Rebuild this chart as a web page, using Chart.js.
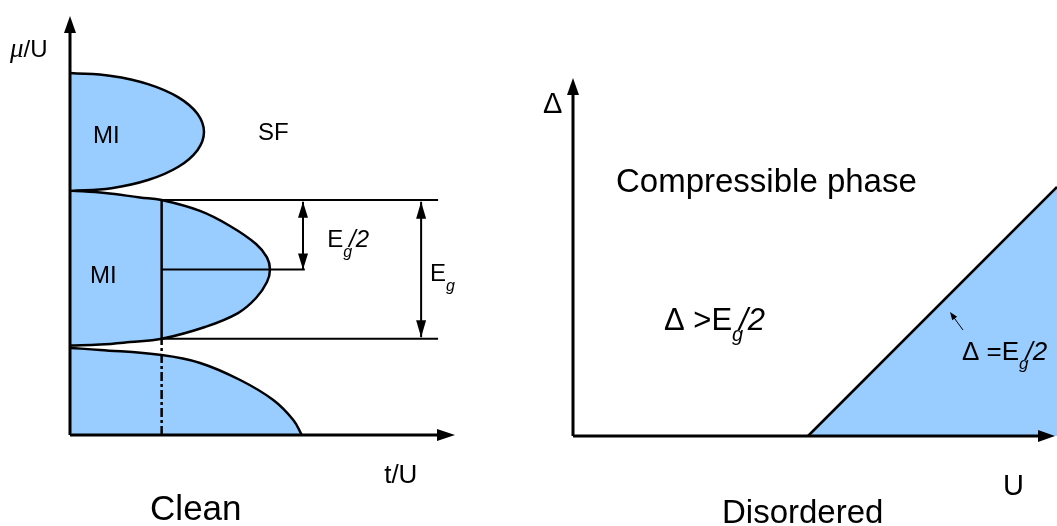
<!DOCTYPE html>
<html>
<head>
<meta charset="utf-8">
<title>Phase diagrams: clean and disordered</title>
<script src="https://cdn.jsdelivr.net/npm/chart.js@4"></script>
<style>
  html, body { margin: 0; padding: 0; background: #fff; }
  #wrap { position: relative; width: 1057px; height: 526px; overflow: hidden; }
  canvas { position: absolute; top: 0; }
</style>
</head>
<body>
<div id="wrap">
  <canvas id="clean" width="520" height="526" style="left:0"></canvas>
  <canvas id="disordered" width="537" height="526" style="left:520px"></canvas>
</div>
<script>
// ---- Clean system: Mott lobes, points are [t/U, mu/U] ----
const mottLobe1 = [[0, 2.755], [0.0538, 2.736], [0.1023, 2.682], [0.1408, 2.598], [0.1655, 2.492],
  [0.174, 2.374], [0.1655, 2.257], [0.1408, 2.150], [0.1023, 2.066], [0.0538, 2.012], [0, 1.994]];
const mottLobe2 = [[0, 1.997], [0.0455, 1.981], [0.0909, 1.952], [0.119, 1.935], [0.1688, 1.865],
  [0.2078, 1.768], [0.2416, 1.652], [0.2558, 1.565], [0.2597, 1.487], [0.2558, 1.406],
  [0.2416, 1.303], [0.2182, 1.206], [0.1753, 1.116], [0.119, 1.04], [0.0779, 1.019],
  [0.039, 1.003], [0, 0.997]];
const mottLobe3 = [[0, 0.981], [0.039, 0.968], [0.119, 0.935], [0.169, 0.884], [0.221, 0.774],
  [0.264, 0.645], [0.29, 0.516], [0.301, 0.419]];

// gap of the second lobe, read at a fixed hopping t/U
const tGap = 0.119;
const gapUpper = 1.935;
const gapLower = 1.04;
const gapMid = 1.487;

// ---- Disordered system: boundary Delta = E_g/2 in the (U, Delta) plane ----
const boundaryU = [2.35, 4.84];
const boundaryDelta = [0, 2.49];

const BLUE = '#99ccff';
const FONT = '"Liberation Sans", Arial, Helvetica, sans-serif';

const xy = pts => pts.map(([x, y]) => ({ x, y }));

function lobe(points, fill) {
  return { data: xy(points), borderColor: '#000', borderWidth: 2.5, pointRadius: 0,
    tension: 0.4, fill, backgroundColor: BLUE, clip: false, order: 3 };
}
function stroke(points, extra) {
  return Object.assign({ data: xy(points), borderColor: '#000', borderWidth: 2, pointRadius: 0,
    tension: 0, fill: false, clip: false, order: 1 }, extra || {});
}

function drawHead(ctx, fx, fy, tx, ty, len, half) {
  const dx = tx - fx, dy = ty - fy, d = Math.hypot(dx, dy);
  const ux = dx / d, uy = dy / d;
  const bx = tx - ux * len, by = ty - uy * len;
  ctx.beginPath();
  ctx.moveTo(tx, ty);
  ctx.lineTo(bx - uy * half, by + ux * half);
  ctx.lineTo(bx + uy * half, by - ux * half);
  ctx.closePath();
  ctx.fill();
}

function drawParts(ctx, x, y, parts) {
  let cx = x;
  for (const p of parts) {
    const fam = p.family || FONT;
    ctx.font = (p.italic ? 'italic ' : '') + p.size + 'px ' + fam;
    cx += p.dx || 0;
    ctx.fillText(p.text, cx, y + (p.dy || 0));
    cx += ctx.measureText(p.text).width;
  }
}

// arrowheads and labels, placed in data coordinates through the chart scales
const sketchPlugin = {
  id: 'sketch',
  afterDatasetsDraw(chart, args, opts) {
    const { ctx } = chart;
    const sx = chart.scales.x, sy = chart.scales.y;
    const px = v => sx.getPixelForValue(v), py = v => sy.getPixelForValue(v);
    ctx.save();
    ctx.fillStyle = '#000';
    for (const h of opts.heads || []) {
      drawHead(ctx, px(h.from[0]), py(h.from[1]), px(h.at[0]), py(h.at[1]), h.len, h.half);
    }
    ctx.textBaseline = 'alphabetic';
    ctx.textAlign = 'left';
    for (const l of opts.labels || []) drawParts(ctx, px(l.at[0]), py(l.at[1]), l.parts);
    ctx.restore();
  }
};

function options(xr, yr, padding, sketch) {
  return {
    responsive: false, animation: false, devicePixelRatio: 1, events: [],
    layout: { padding },
    plugins: { legend: { display: false }, tooltip: { enabled: false }, sketch },
    scales: {
      x: { type: 'linear', min: xr[0], max: xr[1], display: false },
      y: { type: 'linear', min: yr[0], max: yr[1], display: false }
    }
  };
}

// ---------------- Clean ----------------
const muMin = 0.419, muMax = 3.123, tMax = 0.5;
const sub = (t, size, dy) => ({ text: t, size, italic: true, dy });

new Chart(document.getElementById('clean'), {
  type: 'line',
  data: {
    datasets: [
      lobe(mottLobe1, 'shape'),
      lobe(mottLobe2, 'shape'),
      lobe(mottLobe3, 'start'),
      stroke([[0, muMin], [0, muMax - 0.08]], { borderWidth: 3 }),
      stroke([[0, muMin], [tMax - 0.02, muMin]], { borderWidth: 3 }),
      stroke([[tGap, gapLower], [tGap, gapUpper]], { borderWidth: 2.5 }),
      stroke([[tGap, muMin], [tGap, gapLower]], { borderWidth: 2.5, borderDash: [9, 3, 3, 3] }),
      stroke([[tGap, gapUpper], [0.478, gapUpper]]),
      stroke([[tGap, gapLower], [0.478, gapLower]]),
      stroke([[tGap, gapMid], [0.305, gapMid]]),
      stroke([[0.3026, gapUpper - 0.01], [0.3026, gapMid]]),
      stroke([[0.456, gapUpper - 0.01], [0.456, gapLower + 0.01]])
    ]
  },
  options: options([0, tMax], [muMin, muMax], { left: 70, right: 65, top: 16, bottom: 91 }, {
    heads: [
      { from: [0, muMin], at: [0, muMax], len: 17, half: 6 },
      { from: [0, muMin], at: [tMax, muMin], len: 18, half: 6 },
      { from: [0.3026, gapMid], at: [0.3026, gapUpper - 0.01], len: 16, half: 5 },
      { from: [0.3026, gapUpper], at: [0.3026, gapMid], len: 16, half: 5 },
      { from: [0.456, gapLower], at: [0.456, gapUpper - 0.01], len: 17, half: 5 },
      { from: [0.456, gapUpper], at: [0.456, gapLower + 0.01], len: 17, half: 5 }
    ],
    labels: [
      { at: [-0.078, 2.858], parts: [{ text: 'μ', size: 27, italic: true, family: '"Liberation Serif", serif' }, { text: '/U', size: 24 }] },
      { at: [0.030, 2.303], parts: [{ text: 'MI', size: 24 }] },
      { at: [0.244, 2.323], parts: [{ text: 'SF', size: 24 }] },
      { at: [0.026, 1.40], parts: [{ text: 'MI', size: 24 }] },
      { at: [0.334, 1.632], parts: [{ text: 'E', size: 24 }, sub('g', 16, 10), { text: '/2', size: 24, italic: true, dx: -3 }] },
      { at: [0.4675, 1.413], parts: [{ text: 'E', size: 24 }, sub('g', 16, 10)] },
      { at: [0.408, 0.110], parts: [{ text: 't/U', size: 26 }] },
      { at: [0.104, -0.129], parts: [{ text: 'Clean', size: 35 }] }
    ]
  }),
  plugins: [sketchPlugin]
});

// ---------------- Disordered ----------------
const uMax = 4.84, dMax = 3.6;

new Chart(document.getElementById('disordered'), {
  type: 'line',
  data: {
    datasets: [
      { data: boundaryU.map((u, i) => ({ x: u, y: boundaryDelta[i] })), borderColor: '#000',
        borderWidth: 2.5, pointRadius: 0, fill: 'start', backgroundColor: BLUE, clip: false, order: 3 },
      stroke([[0, 0], [0, 3.45]], { borderWidth: 3 }),
      stroke([[0, 0], [4.68, 0]], { borderWidth: 3 }),
      stroke([[3.90, 1.06], [3.79, 1.21]], { borderWidth: 1 })
    ]
  },
  options: options([0, uMax], [0, dMax], { left: 53, right: 0, top: 76, bottom: 90 }, {
    heads: [
      { from: [0, 0], at: [0, 3.58], len: 17, half: 6 },
      { from: [0, 0], at: [4.82, 0], len: 17, half: 6 },
      { from: [3.90, 1.06], at: [3.77, 1.24], len: 8, half: 3 }
    ],
    labels: [
      { at: [-0.30, 3.23], parts: [{ text: 'Δ', size: 29 }] },
      { at: [0.43, 2.44], parts: [{ text: 'Compressible phase', size: 33 }] },
      { at: [0.91, 1.06], parts: [{ text: 'Δ >E', size: 31 }, sub('g', 20, 11), { text: '/2', size: 31, italic: true, dx: -4 }] },
      { at: [3.89, 0.76], parts: [{ text: 'Δ =E', size: 26 }, sub('g', 17, 9), { text: '/2', size: 26, italic: true, dx: -3 }] },
      { at: [4.30, -0.59], parts: [{ text: 'U', size: 29 }] },
      { at: [1.49, -0.87], parts: [{ text: 'Disordered', size: 33 }] }
    ]
  }),
  plugins: [sketchPlugin]
});
</script>
</body>
</html>
